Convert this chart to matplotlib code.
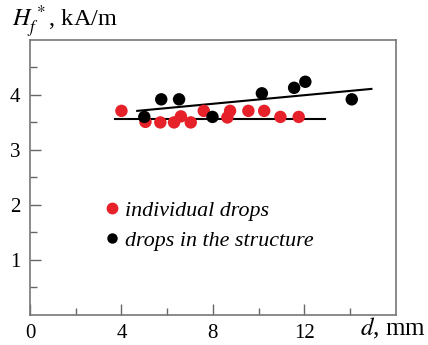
import matplotlib
matplotlib.use("Agg")
import matplotlib.pyplot as plt
from matplotlib.lines import Line2D

plt.rcParams['font.family'] = ['Liberation Serif', 'DejaVu Serif']
plt.rcParams['mathtext.fontset'] = 'stix'

# individual drops (red)
red_d = [4.0, 5.05, 5.7, 6.3, 6.6, 7.03, 7.6, 8.63, 8.75, 9.55, 10.24, 10.95, 11.75]
red_h = [3.71, 3.51, 3.5, 3.5, 3.61, 3.5, 3.71, 3.59, 3.71, 3.71, 3.71, 3.6, 3.6]
# drops in the structure (black)
blk_d = [5.0, 5.74, 6.52, 7.98, 10.14, 11.55, 12.04, 14.07]
blk_h = [3.6, 3.92, 3.92, 3.6, 4.03, 4.13, 4.24, 3.92]
# fit lines (endpoints)
red_fit_d = [3.74, 12.9]
red_fit_h = [3.56, 3.56]
blk_fit_d = [4.69, 14.93]
blk_fit_h = [3.71, 4.11]

labels = ["individual drops", "drops in the structure"]
red = '#e6212a'

fig = plt.figure(figsize=(4.28, 3.45), dpi=100)
ax = fig.add_axes([0.070, 0.088, 0.855, 0.796])

ax.plot(red_fit_d, red_fit_h, color='black', lw=1.5, zorder=2)
ax.plot(blk_fit_d, blk_fit_h, color='black', lw=1.5, zorder=2)
ax.scatter(red_d, red_h, s=80, color=red, edgecolors='none', zorder=3)
ax.scatter(blk_d, blk_h, s=80, color='black', edgecolors='none', zorder=4)

ax.set_xlim(0, 16)
ax.set_ylim(0, 5)
ax.set_xticks([0, 4, 8, 12])
ax.set_xticks([2, 6, 10, 14], minor=True)
ax.set_yticks([1, 2, 3, 4])
ax.set_yticks([0.5, 1.5, 2.5, 3.5, 4.5], minor=True)
ax.tick_params(which='both', direction='in', colors='#666666', labelcolor='black', labelsize=15)
ax.tick_params(which='major', length=8, width=1)
ax.tick_params(which='minor', length=5, width=1)
ax.tick_params(axis='x', pad=7)
ax.tick_params(axis='y', pad=7)
for s in ax.spines.values():
    s.set_color('#777777')
    s.set_linewidth(1.2)

fig.text(0.028, 0.922, r"$H_f^{\,*}$, kA/m", fontsize=17.5, ha='left', va='baseline')
fig.text(0.842, 0.029, r"$d$, mm", fontsize=18, ha='left', va='baseline')

handles = [Line2D([], [], marker='o', ls='none', color=red, markersize=8.5, markeredgewidth=0),
           Line2D([], [], marker='o', ls='none', color='black', markersize=7.5, markeredgewidth=0)]
ax.legend(handles, labels, loc='upper left', bbox_to_anchor=(0.183, 0.448), frameon=False,
          prop={'style': 'italic', 'size': 15.8}, handlelength=0.6, handletextpad=0.3,
          labelspacing=0.45, borderaxespad=0)

fig.savefig("out.png", dpi=100)
